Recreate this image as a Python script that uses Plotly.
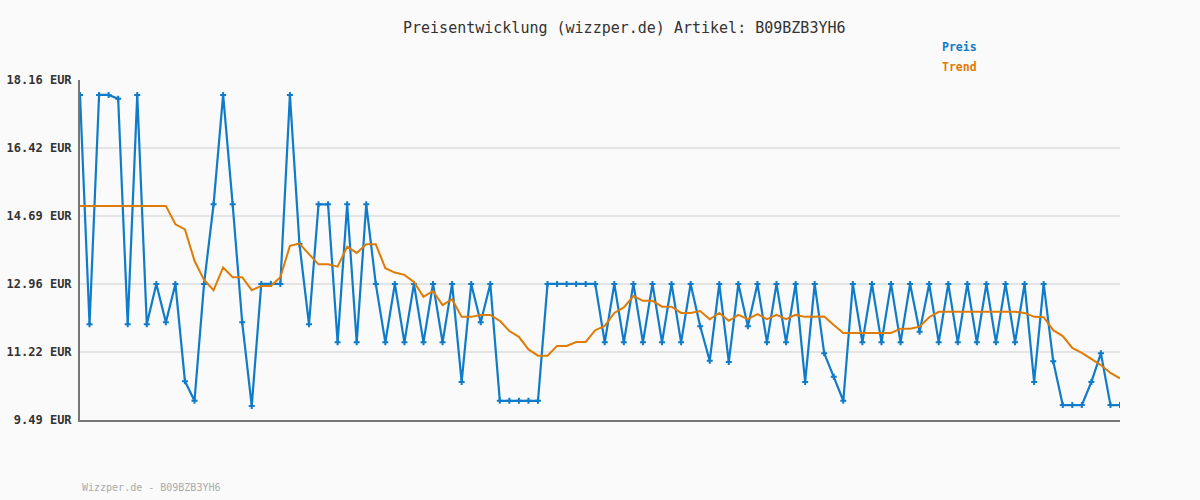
import plotly.graph_objects as go

price = [17.78, 11.93, 17.78, 17.78, 17.68, 11.93, 17.78, 11.93, 12.96, 11.98,
         12.96, 10.48, 9.98, 12.96, 14.99, 17.78, 14.99, 11.98, 9.85, 12.96,
         12.96, 12.96, 17.78, 13.98, 11.93, 14.99, 14.99, 11.47, 14.99, 11.47,
         14.99, 12.96, 11.47, 12.96, 11.47, 12.96, 11.47, 12.96, 11.47, 12.96,
         10.46, 12.96, 11.98, 12.96, 9.98, 9.98, 9.98, 9.98, 9.98, 12.96,
         12.96, 12.96, 12.96, 12.96, 12.96, 11.47, 12.96, 11.47, 12.96, 11.47,
         12.96, 11.47, 12.96, 11.47, 12.96, 11.88, 11.00, 12.96, 10.97, 12.96,
         11.88, 12.96, 11.47, 12.96, 11.47, 12.96, 10.46, 12.96, 11.19, 10.59,
         9.98, 12.96, 11.47, 12.96, 11.47, 12.96, 11.47, 12.96, 11.74, 12.96,
         11.47, 12.96, 11.47, 12.96, 11.47, 12.96, 11.47, 12.96, 11.47, 12.96,
         10.46, 12.96, 10.99, 9.87, 9.87, 9.87, 10.46, 11.19, 9.87, 9.87]

trend = [14.95, 14.95, 14.95, 14.95, 14.95, 14.95, 14.95, 14.95, 14.95, 14.95,
         14.48, 14.35, 13.55, 13.06, 12.80, 13.38, 13.13, 13.13, 12.80, 12.91,
         12.91, 13.13, 13.93, 13.99, 13.72, 13.46, 13.46, 13.40, 13.91, 13.75,
         13.97, 13.97, 13.36, 13.25, 13.19, 13.01, 12.63, 12.78, 12.42, 12.57,
         12.12, 12.12, 12.17, 12.17, 12.02, 11.76, 11.61, 11.29, 11.13, 11.13,
         11.38, 11.38, 11.48, 11.48, 11.78, 11.89, 12.22, 12.36, 12.65, 12.53,
         12.53, 12.38, 12.38, 12.22, 12.22, 12.27, 12.06, 12.22, 12.02, 12.17,
         12.06, 12.19, 12.06, 12.17, 12.06, 12.17, 12.12, 12.12, 12.13, 11.91,
         11.71, 11.71, 11.71, 11.71, 11.71, 11.71, 11.82, 11.82, 11.87, 12.11,
         12.25, 12.25, 12.25, 12.25, 12.25, 12.25, 12.25, 12.25, 12.25, 12.22,
         12.12, 12.11, 11.78, 11.63, 11.33, 11.20, 11.04, 10.89, 10.69, 10.55]

tick_vals = [9.49, 11.224, 12.958, 14.692, 16.426, 18.16]
tick_text = ["9.49 EUR", "11.22 EUR", "12.96 EUR", "14.69 EUR", "16.42 EUR", "18.16 EUR"]

title_text = "Preisentwicklung (wizzper.de) Artikel: B09BZB3YH6"
footer_text = "Wizzper.de - B09BZB3YH6"

BLUE = "#0f7bc9"
ORANGE = "#e07b05"
MONO = "DejaVu Sans Mono, Liberation Mono, monospace"

x = list(range(len(price)))

fig = go.Figure()
fig.add_trace(go.Scatter(
    x=x, y=price, mode="lines+markers", name="Preis",
    line=dict(color=BLUE, width=2.2),
    marker=dict(symbol="cross", size=5, color=BLUE),
    hoverinfo="skip",
))
fig.add_trace(go.Scatter(
    x=x, y=trend, mode="lines", name="Trend",
    line=dict(color=ORANGE, width=2),
    hoverinfo="skip",
))

fig.update_layout(
    width=1200, height=500,
    margin=dict(l=80, r=80, t=80, b=80, autoexpand=False),
    paper_bgcolor="#fafafa", plot_bgcolor="#fafafa",
    showlegend=False,
    font=dict(family=MONO, color="#333333"),
    xaxis=dict(range=[0, 109], showgrid=False, zeroline=False,
               showticklabels=False, ticks="", automargin=False,
               showline=True, linecolor="#777777", linewidth=2),
    yaxis=dict(range=[9.49, 18.16], tickvals=tick_vals, ticktext=tick_text,
               showgrid=True, gridcolor="#e4e4e4", gridwidth=2,
               zeroline=False, showline=True, linecolor="#777777", linewidth=2,
               ticks="", ticklabelstandoff=4, automargin=False,
               tickfont=dict(family=MONO, size=12, color="#333333", weight="bold")),
    annotations=[
        dict(text=title_text, x=624, y=28, showarrow=False,
             font=dict(family=MONO, size=15, color="#333333")),
        dict(text="<b>Preis</b>", x=940, y=47, xanchor="left", showarrow=False,
             font=dict(family=MONO, size=11.5, color=BLUE)),
        dict(text="<b>Trend</b>", x=940, y=67, xanchor="left", showarrow=False,
             font=dict(family=MONO, size=11.5, color=ORANGE)),
        dict(text=footer_text, x=80, y=487, xanchor="left", showarrow=False,
             font=dict(family=MONO, size=10, color="#aaaaaa")),
    ],
)

# convert pixel positions to paper coordinates for annotations
pw, ph = 1200 - 160, 500 - 160
for a in fig.layout.annotations:
    px, py = a.x, a.y
    a.xref = "paper"
    a.yref = "paper"
    a.x = (px - 80) / pw
    a.y = (420 - py) / ph
    a.yanchor = "middle"
    if a.xanchor is None:
        a.xanchor = "center"

fig.write_html("out.html", config={"displayModeBar": False},
               post_script="document.body.style.margin='0';document.body.style.background='#fafafa';")
